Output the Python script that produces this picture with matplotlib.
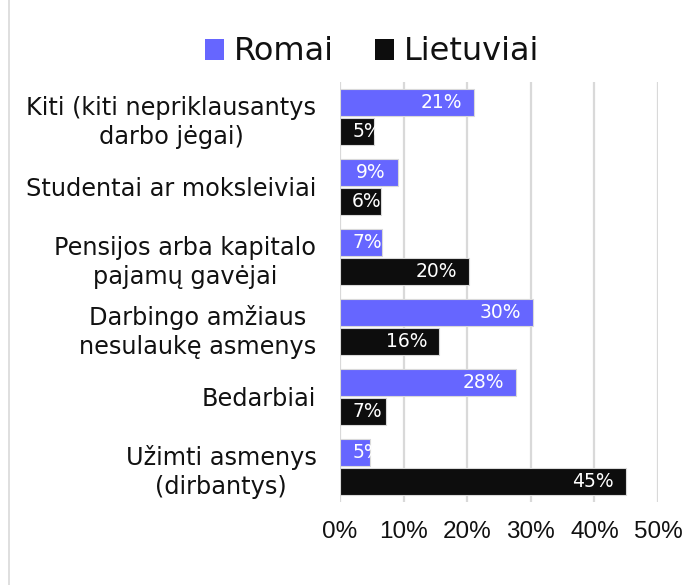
import numpy as np
import matplotlib
matplotlib.use("Agg")
import matplotlib.pyplot as plt
from matplotlib.patches import Patch
from matplotlib.lines import Line2D
from matplotlib.ticker import PercentFormatter

plt.rcParams["font.family"] = ["DejaVu Sans"]

categories = [
    "Kiti (kiti nepriklausantys\ndarbo jėgai)",
    "Studentai ar moksleiviai",
    "Pensijos arba kapitalo\npajamų gavėjai",
    "Darbingo amžiaus\nnesulaukę asmenys",
    "Bedarbiai",
    "Užimti asmenys\n(dirbantys)",
]
romai = [21.1, 9.1, 6.6, 30.3, 27.7, 4.7]
lietuviai = [5.4, 6.4, 20.3, 15.6, 7.2, 44.9]
series_names = ["Romai", "Lietuviai"]
colors = ["#6666ff", "#0d0d0d"]

fig = plt.figure(figsize=(6.83, 5.85), dpi=100)
ax = fig.add_axes([340 / 683, 1 - 502 / 585, 318 / 683, 420 / 585])

y = np.arange(len(categories))
h = 0.385
off = 0.205
for vals, dy, c in [(romai, -off, colors[0]), (lietuviai, off, colors[1])]:
    ax.barh(y + dy, vals, height=h, color=c, edgecolor="#d9d9d9",
            linewidth=0.8, zorder=2)
    for yy, v in zip(y + dy, vals):
        # label sits inside the bar end, but never closer than the pad to the axis
        if v > 8.5:
            ax.text(v - 1.9, yy, f"{v:.0f}%", ha="right", va="center",
                    color="white", fontsize=13.5, zorder=3)
        else:
            ax.text(1.9, yy, f"{v:.0f}%", ha="left", va="center",
                    color="white", fontsize=13.5, zorder=3)

ax.set_xlim(0, 50)
ax.set_ylim(len(categories) - 0.5, -0.5)
ax.set_xticks(np.arange(0, 51, 10))
ax.xaxis.set_major_formatter(PercentFormatter(decimals=0))
ax.set_yticks(y)
ax.set_yticklabels(categories)
for lab in ax.get_yticklabels():
    lab.set_multialignment("center")
    lab.set_linespacing(1.28)
    lab.set_fontsize(17.3)
for lab in ax.get_xticklabels():
    lab.set_family("Liberation Sans")
    lab.set_fontsize(17.5)
ax.tick_params(axis="both", length=0, colors="#111111")
ax.tick_params(axis="y", pad=17)
ax.tick_params(axis="x", pad=14)
ax.grid(axis="x", color="#d9d9d9", linewidth=1.6, zorder=0)
ax.set_axisbelow(True)
for s in ax.spines.values():
    s.set_visible(False)

handles = [Patch(facecolor=c, edgecolor="none") for c in colors]
fig.legend(handles, series_names, loc="center", bbox_to_anchor=(372 / 683, 1 - 52 / 585),
           ncol=2, frameon=False, fontsize=23, handlelength=0.6, handleheight=0.65,
           handletextpad=0.3, columnspacing=1.3, labelcolor="#111111")

fig.add_artist(Line2D([9 / 683, 9 / 683], [0, 1], color="#d9d9d9", linewidth=1.2))

fig.savefig("out.png", dpi=100)
